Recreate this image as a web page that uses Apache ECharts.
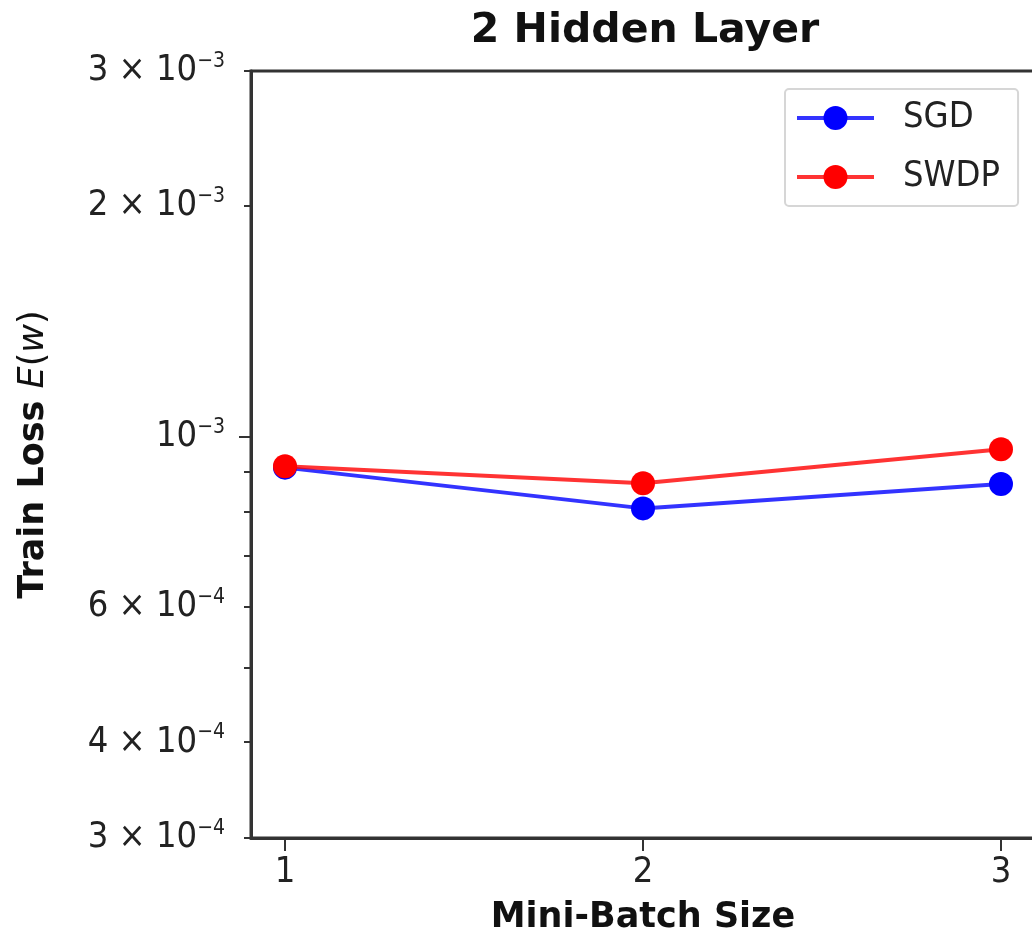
<!DOCTYPE html>
<html>
<head>
<meta charset="utf-8">
<script src="https://cdn.jsdelivr.net/npm/echarts@6/dist/echarts.min.js"></script>
<style>
  html, body { margin: 0; padding: 0; background: #fff; overflow: hidden; width: 1032px; height: 942px; }
  #chart { width: 1040px; height: 942px; }
</style>
</head>
<body>
<div id="chart"></div>
<script>
// data
var batchSizes = [1, 2, 3];
var sgdLoss = [9.12e-4, 8.07e-4, 8.68e-4];
var swdpLoss = [9.16e-4, 8.70e-4, 9.64e-4];
var yLabelTicks = [3e-4, 4e-4, 6e-4, 1e-3, 2e-3, 3e-3];
var yMinorTicks = [3e-4, 4e-4, 5e-4, 6e-4, 7e-4, 8e-4, 9e-4, 1e-3, 2e-3, 3e-3];
var yMajorTicks = [1e-3];

var FONT = '"DejaVu Sans Condensed", "DejaVu Sans", sans-serif';
var BOLD = '"DejaVu Sans", sans-serif';

function pairs(xs, ys) {
	return xs.map(function (x, i) { return [x, ys[i]]; });
}

// 3e-4 -> "3 × 10^-4" with superscript
function sciLabel(v) {
	var e = Math.floor(Math.log10(v) + 1e-9);
	var m = Math.round(v / Math.pow(10, e));
	var head = (m === 1 ? '' : m + ' × ') + '10';
	return '{m|' + head + '}{e|\u2212' + (-e) + '}';
}

var chart = echarts.init(document.getElementById('chart'));

var option = {
	animation: false,
	backgroundColor: '#fff',
	title: {
		text: '2 Hidden Layer',
		left: 640,
		textAlign: 'center',
		top: 6,
		textStyle: { fontFamily: BOLD, fontWeight: 'bold', fontSize: 41, color: '#111' }
	},
	legend: {
		orient: 'vertical',
		left: 785,
		top: 89,
		padding: [11, 18, 11, 10],
		itemWidth: 77,
		itemHeight: 30,
		itemGap: 23,
		backgroundColor: '#fff',
		borderColor: '#d6d6d6',
		borderWidth: 2,
		borderRadius: 4,
		lineStyle: { width: 4 },
		formatter: function (name) { return '{t|' + name + '}'; },
		textStyle: {
			rich: {
				t: { fontFamily: FONT, fontSize: 36, lineHeight: 30, color: '#222', padding: [0, 0, 0, 24] }
			}
		},
		data: ['SGD', 'SWDP']
	},
	grid: {
		left: 251,
		right: 5,
		top: 71,
		bottom: 104,
		show: true,
		borderColor: '#333',
		borderWidth: 3,
		backgroundColor: 'transparent'
	},
	xAxis: {
		type: 'value',
		min: 0.905,
		max: 3.095,
		name: 'Mini-Batch Size',
		nameLocation: 'middle',
		nameGap: 62,
		nameTextStyle: { fontFamily: BOLD, fontWeight: 'bold', fontSize: 35, color: '#111' },
		splitLine: { show: false },
		axisLine: { lineStyle: { color: '#333', width: 3 } },
		axisTick: { customValues: batchSizes, length: 13, lineStyle: { color: '#333', width: 2 } },
		axisLabel: {
			customValues: batchSizes,
			margin: 17,
			fontFamily: FONT,
			fontSize: 36,
			color: '#222'
		}
	},
	yAxis: [
		{
			type: 'log',
			logBase: 10,
			min: 3e-4,
			max: 3e-3,
			name: '{b|Train Loss }{i|E}{r|(}{i|w}{r|)}',
			nameLocation: 'middle',
			nameGap: 200,
			nameTextStyle: {
				fontFamily: BOLD, fontSize: 35, color: '#111',
				rich: {
					b: { fontFamily: BOLD, fontWeight: 'bold', fontSize: 35, color: '#111' },
					i: { fontFamily: '"DejaVu Sans", sans-serif', fontStyle: 'italic', fontSize: 35, color: '#111' },
					r: { fontFamily: '"DejaVu Sans", sans-serif', fontSize: 35, color: '#111' }
				}
			},
			splitLine: { show: false },
			axisLine: { lineStyle: { color: '#333', width: 3 } },
			axisTick: { customValues: yMinorTicks, length: 7, lineStyle: { color: '#333', width: 2 } },
			axisLabel: {
				customValues: yLabelTicks,
				margin: 26,
				formatter: sciLabel,
				rich: {
					m: { fontFamily: FONT, fontSize: 36, lineHeight: 40, color: '#222' },
					e: { fontFamily: FONT, fontSize: 21, lineHeight: 22, verticalAlign: 'top', color: '#222' }
				}
			}
		},
		{
			type: 'log',
			logBase: 10,
			min: 3e-4,
			max: 3e-3,
			position: 'left',
			splitLine: { show: false },
			axisLine: { show: false },
			axisLabel: { show: false },
			axisTick: { customValues: yMajorTicks, length: 12, lineStyle: { color: '#333', width: 2 } }
		}
	],
	series: [
		{
			name: 'SGD',
			type: 'line',
			data: pairs(batchSizes, sgdLoss),
			symbol: 'circle',
			symbolSize: 24,
			itemStyle: { color: '#0000ff' },
			lineStyle: { color: '#0000ff', width: 4, opacity: 0.8 },
			z: 3
		},
		{
			name: 'SWDP',
			type: 'line',
			data: pairs(batchSizes, swdpLoss),
			symbol: 'circle',
			symbolSize: 24,
			itemStyle: { color: '#ff0000' },
			lineStyle: { color: '#ff0000', width: 4, opacity: 0.8 },
			z: 4
		}
	]
};

chart.setOption(option);
</script>
</body>
</html>
